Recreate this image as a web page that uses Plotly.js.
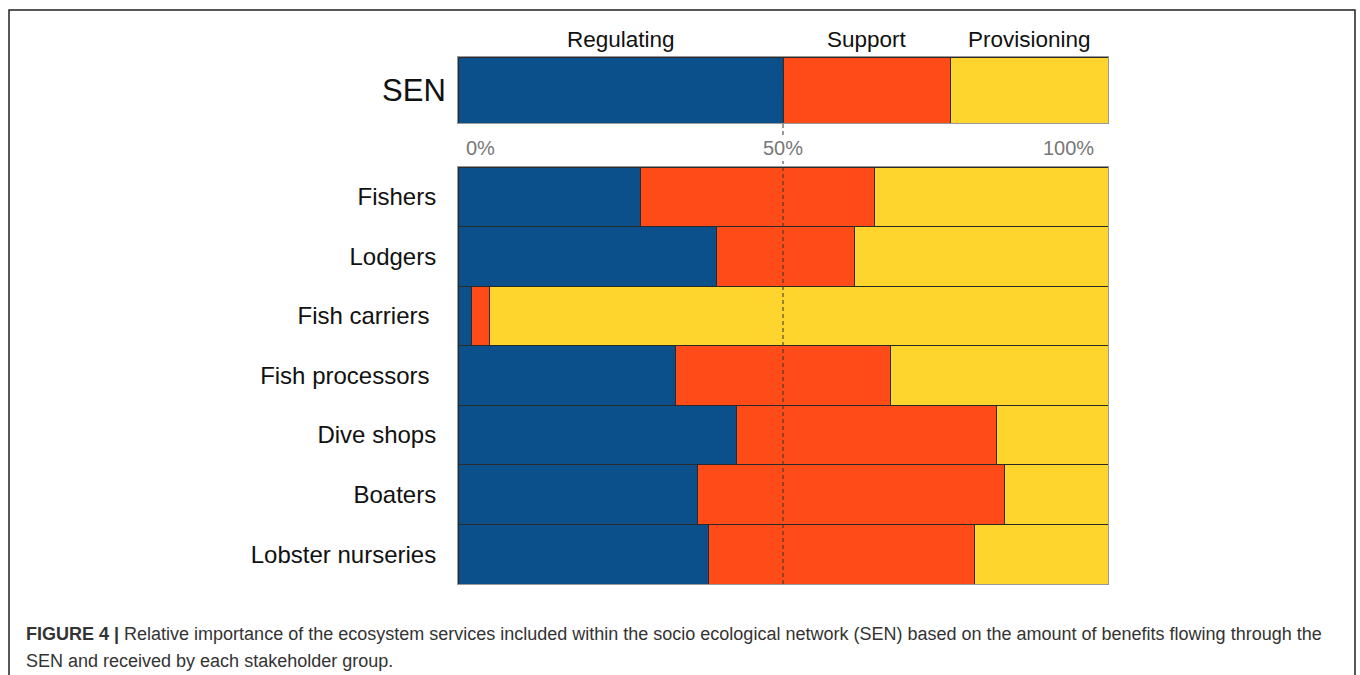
<!DOCTYPE html>
<html>
<head>
<meta charset="utf-8">
<script src="https://cdn.plot.ly/plotly-3.0.1.min.js"></script>
<style>html,body{margin:0;padding:0;background:#fff;}#chart{width:1360px;height:675px;}</style>
</head>
<body>
<div id="chart"></div>
<script>
// ---- data ----
const services = ["Regulating", "Support", "Provisioning"];
const serviceColors = ["#0B4F8B", "#FF4B17", "#FED52C"];
const senLabel = ["SEN"];
const senValues = [50.0, 25.7, 24.3];
const groups = ["Fishers", "Lodgers", "Fish carriers\u00a0", "Fish processors\u00a0", "Dive shops", "Boaters", "Lobster nurseries"];
const regulating   = [28.0, 39.8, 2.0, 33.5, 42.9, 36.8, 38.6];
const support      = [36.0, 21.2, 2.8, 33.1, 39.9, 47.2, 40.8];
const provisioning = [36.0, 39.0, 95.2, 33.4, 17.2, 16.0, 20.6];
const tickLabels = ["0%", "50%", "100%"];
const tickVals = [0, 50, 100];

const W = 1360, H = 675;
const px = v => v / W;
const py = v => 1 - v / H;
const font = "Liberation Sans, Arial, sans-serif";

const groupSeries = [regulating, support, provisioning];
const traces = [];
services.forEach((s, i) => {
  traces.push({
    type: "bar", orientation: "h", name: s,
    y: senLabel, x: [senValues[i]],
    xaxis: "x", yaxis: "y",
    marker: {color: serviceColors[i], line: {color: "#2a2a2a", width: 1}},
    hoverinfo: "x+name", showlegend: false
  });
  traces.push({
    type: "bar", orientation: "h", name: s,
    y: groups, x: groupSeries[i],
    xaxis: "x2", yaxis: "y2",
    marker: {color: serviceColors[i], line: {color: "#2a2a2a", width: 1}},
    hoverinfo: "x+name", showlegend: false
  });
});

const xDom = [px(458), px(1108)];
const annotations = [];
// service labels above SEN bar at segment centres
let cum = 0;
senValues.forEach((v, i) => {
  annotations.push({
    xref: "x", yref: "paper", x: cum + v / 2, y: py(39),
    text: services[i], showarrow: false, xanchor: "center", yanchor: "middle",
    font: {family: font, size: 22.5, color: "#111"}
  });
  cum += v;
});
// percent tick labels
const anchors = ["left", "center", "right"];
const shifts = [6, 0, -12];
tickVals.forEach((t, i) => {
  annotations.push({
    xref: "x", yref: "paper", x: t, y: py(148),
    text: tickLabels[i], showarrow: false, xanchor: anchors[i], yanchor: "middle",
    xshift: shifts[i], font: {family: font, size: 20, color: "#777"}
  });
});
// caption
annotations.push({
  xref: "paper", yref: "paper", x: px(24), y: py(634), xanchor: "left", yanchor: "middle",
  showarrow: false, align: "left",
  text: "<b>FIGURE 4 |</b> Relative importance of the ecosystem services included within the socio ecological network (SEN) based on the amount of benefits flowing through the",
  font: {family: font, size: 18, color: "#333"}
});
annotations.push({
  xref: "paper", yref: "paper", x: px(24), y: py(661), xanchor: "left", yanchor: "middle",
  showarrow: false, align: "left",
  text: "SEN and received by each stakeholder group.",
  font: {family: font, size: 18, color: "#333"}
});

const shapes = [
  {type: "rect", xref: "paper", yref: "paper", x0: px(9), x1: px(1355), y0: -0.2, y1: py(10),
   line: {color: "#222", width: 1.5}, fillcolor: "rgba(0,0,0,0)", layer: "below"},
  {type: "line", xref: "x", yref: "paper", x0: 50, x1: 50, y0: py(135), y1: py(57),
   line: {color: "#333", width: 1, dash: "4px,3px"}, layer: "above"},
  {type: "line", xref: "x2", yref: "paper", x0: 50, x1: 50, y0: py(584), y1: py(161),
   line: {color: "#333", width: 1, dash: "4px,3px"}, layer: "above"}
];

const axX = {
  domain: xDom, range: [0, 100], showticklabels: false, showgrid: false, zeroline: false,
  showline: true, mirror: true, linecolor: "#999", linewidth: 1, fixedrange: true
};
const layout = {
  width: W, height: H,
  margin: {l: 0, r: 0, t: 0, b: 0},
  paper_bgcolor: "#fff", plot_bgcolor: "#fff",
  barmode: "stack", bargap: 0,
  showlegend: false,
  xaxis: Object.assign({}, axX, {anchor: "y"}),
  xaxis2: Object.assign({}, axX, {anchor: "y2"}),
  yaxis: {
    domain: [py(123), py(57)], anchor: "x", showgrid: false, zeroline: false,
    showline: true, mirror: true, linecolor: "#999", ticks: "", ticklabelstandoff: 5,
    tickfont: {family: font, size: 31, color: "#111"}, fixedrange: true
  },
  yaxis2: {
    domain: [py(584), py(167)], anchor: "x2", showgrid: false, zeroline: false,
    showline: true, mirror: true, linecolor: "#999", ticks: "", ticklabelstandoff: 16,
    autorange: "reversed",
    tickfont: {family: font, size: 24, color: "#111"}, fixedrange: true
  },
  annotations: annotations,
  shapes: shapes
};
Plotly.newPlot("chart", traces, layout, {displayModeBar: false, staticPlot: true});
</script>
</body>
</html>
